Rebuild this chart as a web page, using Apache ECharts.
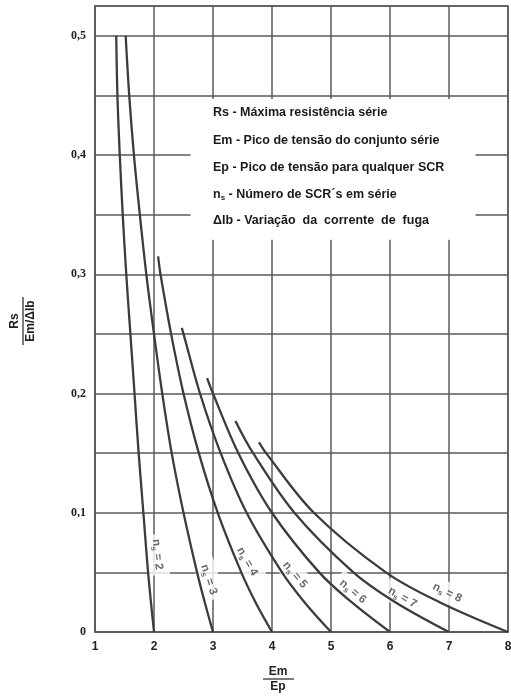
<!DOCTYPE html>
<html>
<head>
<meta charset="utf-8">
<script src="https://cdn.jsdelivr.net/npm/echarts@6/dist/echarts.min.js"></script>
<style>
html,body{margin:0;padding:0;background:#fff;overflow:hidden;}
#chart{width:511px;height:698px;}
</style>
</head>
<body>
<div id="chart"></div>
<script>
// ---- data ----
const xTicks = [1, 2, 3, 4, 5, 6, 7, 8];
const yTickLabels = ['0', '0,1', '0,2', '0,3', '0,4', '0,5'];
const curveNames = ['2', '3', '4', '5', '6', '7', '8'];
const ns2 = [[1.36,0.50],[1.38,0.45],[1.42,0.40],[1.47,0.35],[1.53,0.30],[1.60,0.25],[1.67,0.20],[1.74,0.15],[1.82,0.10],[1.90,0.05],[2.0,0]];
const ns3 = [[1.52,0.50],[1.58,0.45],[1.66,0.40],[1.76,0.35],[1.87,0.30],[2.0,0.25],[2.14,0.20],[2.30,0.15],[2.50,0.10],[2.73,0.05],[2.86,0.025],[3.0,0]];
const ns4 = [[2.07,0.315],[2.11,0.30],[2.29,0.25],[2.50,0.20],[2.76,0.15],[3.08,0.10],[3.48,0.05],[3.72,0.025],[4.0,0]];
const ns5 = [[2.47,0.255],[2.50,0.25],[2.78,0.20],[3.13,0.15],[3.57,0.10],[4.17,0.05],[4.55,0.025],[5.0,0]];
const ns6 = [[2.90,0.213],[3.0,0.20],[3.43,0.15],[4.0,0.10],[4.8,0.05],[5.35,0.025],[6.0,0]];
const ns7 = [[3.38,0.177],[3.68,0.15],[4.38,0.10],[5.38,0.05],[6.09,0.025],[7.0,0]];
const ns8 = [[3.78,0.159],[3.90,0.15],[4.71,0.10],[5.93,0.05],[6.84,0.025],[8.0,0]];
const curves = [ns2, ns3, ns4, ns5, ns6, ns7, ns8];
// label anchors (data coords) and rotations for the n_s labels
const labelAnchorX = [2.06, 2.93, 3.58, 4.39, 5.37, 6.21, 6.97];
const labelAnchorY = [0.065, 0.044, 0.059, 0.048, 0.034, 0.029, 0.033];
const labelRotate = [-84, -72, -60, -50, -40, -30, -26];
const legendLines = [
  'Rs - Máxima resistência série',
  'Em - Pico de tensão do conjunto série',
  'Ep - Pico de tensão para qualquer SCR',
  '{t|n}{sub|s}{t| - Número de SCR´s em série}',
  'ΔIb - Variação  da  corrente  de  fuga'
];

const chart = echarts.init(document.getElementById('chart'), null, {width: 511, height: 698});
const lineColor = '#3c3c3c';
const gridColor = '#5a5a5a';
const sans = '"Liberation Sans", Arial, sans-serif';
const serif = '"Liberation Serif", "Times New Roman", serif';

const series = curves.map((c, i) => ({
  type: 'line',
  name: 'ns=' + curveNames[i],
  data: c,
  smooth: 0.35,
  showSymbol: false,
  symbol: 'none',
  z: 3,
  lineStyle: {color: lineColor, width: 2.3},
  silent: true
}));

series.push({
  type: 'scatter',
  name: 'labels',
  z: 2,
  symbolSize: 0,
  silent: true,
  data: curveNames.map((n, i) => ({
    value: [labelAnchorX[i], labelAnchorY[i]],
    label: {
      show: true,
      position: 'inside',
      rotate: labelRotate[i],
      formatter: '{t|n}{sub|s}{t| = ' + n + '}',
      backgroundColor: '#fff',
      padding: [3, 5],
      rich: {
        t: {fontFamily: sans, fontWeight: 'bold', fontSize: 11.5, color: '#444'},
        sub: {fontFamily: sans, fontWeight: 'bold', fontSize: 8, color: '#444', padding: [7, 0, 0, 0]}
      }
    }
  }))
});

// white background of the legend box
series.push({
  type: 'scatter',
  name: 'legendbox',
  data: [],
  z: 1,
  silent: true,
  markArea: {
    silent: true,
    itemStyle: {color: '#fff', opacity: 1},
    data: [[{coord: [2.62, 0.447]}, {coord: [7.45, 0.329]}]]
  }
});

const legendTops = [106, 134, 161, 188, 214];
const graphics = legendLines.map((t, i) => ({
  type: 'text',
  left: 213,
  top: legendTops[i],
  z: 10,
  style: {
    text: t,
    font: 'bold 12.5px ' + sans,
    fill: '#1a1a1a',
    rich: {
      t: {fontFamily: sans, fontWeight: 'bold', fontSize: 12.5, fill: '#1a1a1a'},
      sub: {fontFamily: sans, fontWeight: 'bold', fontSize: 8, fill: '#1a1a1a', padding: [7, 0, 0, 0]}
    }
  }
}));

// y axis title: Rs over Em/ΔIb, rotated
graphics.push({
  type: 'group',
  x: 23, y: 321,
  rotation: Math.PI / 2,
  children: [
    {type: 'text', style: {text: 'Rs', font: 'bold 12px ' + sans, fill: '#222', textAlign: 'center', textVerticalAlign: 'bottom'}, x: 0, y: -2},
    {type: 'line', shape: {x1: -24, y1: 0, x2: 24, y2: 0}, style: {stroke: '#222', lineWidth: 1.2}},
    {type: 'text', style: {text: 'Em/ΔIb', font: 'bold 12px ' + sans, fill: '#222', textAlign: 'center', textVerticalAlign: 'top'}, x: 0, y: 2}
  ]
});
// x axis title: Em over Ep
graphics.push({
  type: 'group',
  x: 278, y: 679,
  children: [
    {type: 'text', style: {text: 'Em', font: 'bold 12px ' + sans, fill: '#222', textAlign: 'center', textVerticalAlign: 'bottom'}, x: 0, y: -1},
    {type: 'line', shape: {x1: -15, y1: 0, x2: 16, y2: 0}, style: {stroke: '#222', lineWidth: 1.2}},
    {type: 'text', style: {text: 'Ep', font: 'bold 12px ' + sans, fill: '#222', textAlign: 'center', textVerticalAlign: 'top'}, x: 0, y: 2}
  ]
});

chart.setOption({
  animation: false,
  backgroundColor: '#fff',
  grid: {left: 95, right: 3, top: 6, bottom: 66, containLabel: false, outerBoundsMode: 'none', show: true, borderColor: gridColor, borderWidth: 1.5, backgroundColor: 'transparent'},
  xAxis: {
    type: 'value', min: 1, max: 8, interval: 1,
    axisLine: {show: true, lineStyle: {color: gridColor, width: 1.5}},
    axisTick: {show: false},
    splitLine: {show: true, lineStyle: {color: gridColor, width: 1.5}},
    axisLabel: {
      margin: 9,
      fontFamily: sans, fontWeight: 'bold', fontSize: 12, color: '#222',
      formatter: v => xTicks.indexOf(Math.round(v)) >= 0 && Math.abs(v - Math.round(v)) < 1e-6 ? String(Math.round(v)) : ''
    }
  },
  yAxis: {
    type: 'value', min: 0, max: 0.525, interval: 0.05,
    axisLine: {show: true, lineStyle: {color: gridColor, width: 1.5}},
    axisTick: {show: false},
    splitLine: {show: true, lineStyle: {color: gridColor, width: 1.5}},
    axisLabel: {
      margin: 9,
      fontFamily: serif, fontWeight: 'bold', fontSize: 12, color: '#222',
      formatter: v => {
        const k = Math.round(v * 10);
        if (Math.abs(v * 10 - k) > 1e-6 || k > 5) return '';
        return yTickLabels[k];
      }
    }
  },
  series: series,
  graphic: graphics
});
</script>
</body>
</html>
